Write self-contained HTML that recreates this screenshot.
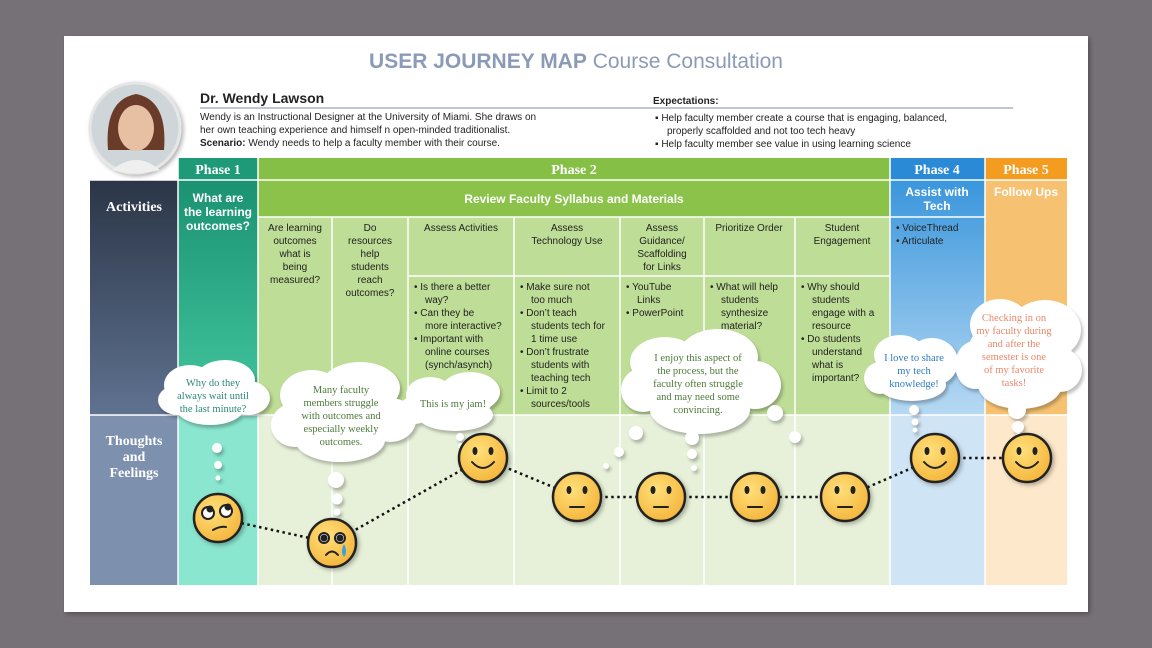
<!DOCTYPE html>
<html><head><meta charset="utf-8"><style>
html,body{margin:0;padding:0;background:#767176;}
svg{display:block}
.s{font-family:"Liberation Sans",sans-serif}
.sr{font-family:"Liberation Serif",serif}
</style></head><body>
<svg width="1152" height="648" viewBox="0 0 1152 648" xmlns="http://www.w3.org/2000/svg">
<defs>
<filter id="sh" x="-20%" y="-20%" width="140%" height="140%"><feDropShadow dx="2" dy="2" stdDeviation="2" flood-color="#000" flood-opacity="0.3"/></filter>
<filter id="bl"><feGaussianBlur stdDeviation="1.5"/></filter>
<linearGradient id="gAct" x1="0" y1="0" x2="0" y2="1"><stop offset="0" stop-color="#2b3547"/><stop offset="1" stop-color="#5f7290"/></linearGradient>
<linearGradient id="gP1" x1="0" y1="0" x2="0" y2="1"><stop offset="0" stop-color="#1b9272"/><stop offset="1" stop-color="#43c7a0"/></linearGradient>
<linearGradient id="gP4" x1="0" y1="0" x2="0" y2="1"><stop offset="0" stop-color="#3a96dc"/><stop offset="1" stop-color="#b6d9f3"/></linearGradient>
<radialGradient id="face" cx="0.4" cy="0.35" r="0.7"><stop offset="0" stop-color="#ffe07a"/><stop offset="1" stop-color="#f4b43a"/></radialGradient>
<radialGradient id="photo" cx="0.5" cy="0.45" r="0.6"><stop offset="0" stop-color="#e9c2a6"/><stop offset="0.45" stop-color="#c89a7c"/><stop offset="0.6" stop-color="#6b3f2e"/><stop offset="1" stop-color="#d8dde0"/></radialGradient>
<g id="clouds">
<ellipse cx="190" cy="385" rx="26" ry="20"/><ellipse cx="225" cy="380" rx="30" ry="20"/><ellipse cx="248" cy="398" rx="22" ry="17"/><ellipse cx="210" cy="408" rx="34" ry="17"/><ellipse cx="178" cy="400" rx="20" ry="15"/>
<circle cx="217" cy="448" r="5"/><circle cx="218" cy="465" r="4"/><circle cx="218" cy="478" r="2.5"/>
<ellipse cx="312" cy="395" rx="32" ry="25"/><ellipse cx="360" cy="388" rx="40" ry="26"/><ellipse cx="390" cy="420" rx="26" ry="22"/><ellipse cx="340" cy="440" rx="45" ry="22"/><ellipse cx="295" cy="425" rx="24" ry="22"/><ellipse cx="340" cy="415" rx="50" ry="30"/>
<circle cx="336" cy="480" r="8"/><circle cx="337" cy="499" r="5.5"/><circle cx="337" cy="512" r="3.5"/>
<ellipse cx="430" cy="395" rx="24" ry="18"/><ellipse cx="470" cy="392" rx="30" ry="20"/><ellipse cx="455" cy="415" rx="38" ry="16"/><ellipse cx="415" cy="410" rx="16" ry="14"/><ellipse cx="452" cy="402" rx="40" ry="18"/>
<circle cx="460" cy="437" r="4"/><circle cx="461" cy="446" r="3"/>
<ellipse cx="665" cy="362" rx="35" ry="25"/><ellipse cx="718" cy="357" rx="40" ry="28"/><ellipse cx="755" cy="385" rx="26" ry="24"/><ellipse cx="700" cy="410" rx="50" ry="24"/><ellipse cx="643" cy="390" rx="22" ry="22"/><ellipse cx="698" cy="385" rx="60" ry="32"/>
<circle cx="775" cy="413" r="8"/><circle cx="795" cy="437" r="6"/><circle cx="636" cy="433" r="7"/><circle cx="619" cy="452" r="5"/><circle cx="606" cy="466" r="3"/>
<circle cx="692" cy="438" r="7"/><circle cx="692" cy="454" r="5"/><circle cx="694" cy="468" r="3"/>
<ellipse cx="900" cy="355" rx="26" ry="20"/><ellipse cx="932" cy="362" rx="26" ry="24"/><ellipse cx="912" cy="385" rx="34" ry="16"/><ellipse cx="880" cy="378" rx="16" ry="16"/><ellipse cx="912" cy="370" rx="36" ry="22"/>
<circle cx="914" cy="410" r="5"/><circle cx="915" cy="422" r="3.5"/><circle cx="915" cy="430" r="2.5"/>
<ellipse cx="1000" cy="325" rx="30" ry="26"/><ellipse cx="1045" cy="330" rx="36" ry="30"/><ellipse cx="1060" cy="370" rx="22" ry="22"/><ellipse cx="1020" cy="385" rx="42" ry="24"/><ellipse cx="975" cy="365" rx="20" ry="24"/><ellipse cx="1017" cy="355" rx="50" ry="40"/>
<circle cx="1017" cy="410" r="9"/><circle cx="1018" cy="427" r="6"/><circle cx="1019" cy="437" r="4"/>
</g>
</defs>
<rect x="64" y="36" width="1024" height="576" fill="#fff" filter="url(#sh)"/>
<text x="576" y="68" text-anchor="middle" class="s" font-size="21" fill="#8a9bb7"><tspan font-weight="bold">USER JOURNEY MAP</tspan> Course Consultation</text>
<!-- photo -->
<circle cx="135" cy="128" r="45" fill="#cfd6da" stroke="#e6e6e6" stroke-width="3" filter="url(#sh)"/>
<path d="M108 150 Q104 100 136 94 Q168 100 164 150 Z" fill="#6b3b2a"/>
<ellipse cx="136" cy="128" rx="18" ry="23" fill="#e7bfa2"/>
<path d="M117 112 Q136 96 156 112 Q150 100 136 100 Q121 100 117 112Z" fill="#6b3b2a"/>
<path d="M112 170 Q136 150 160 170 Q136 176 112 170Z" fill="#efefef"/>
<text x="200" y="103" class="s" font-size="14" font-weight="bold" fill="#222">Dr. Wendy Lawson</text>
<line x1="200" y1="108" x2="1013" y2="108" stroke="#a8b4c6" stroke-width="1.5"/>
<g class="s" font-size="10" fill="#222">
<text x="200" y="120">Wendy is an Instructional Designer at the University of Miami.  She draws on</text>
<text x="200" y="133">her own teaching experience and himself n open-minded traditionalist.</text>
<text x="200" y="146"><tspan font-weight="bold">Scenario:</tspan> Wendy needs to help a faculty member with their course.</text>
<text x="653" y="104" font-weight="bold">Expectations:</text>
<text x="655" y="121">▪  Help faculty member  create a course that is engaging, balanced,</text>
<text x="667" y="134">properly scaffolded and not too tech heavy</text>
<text x="655" y="147">▪  Help faculty member  see value in using learning science</text>
</g>
<!-- phase row -->
<rect x="178" y="158" width="80" height="22" fill="#1e9a78"/>
<rect x="258" y="158" width="632" height="22" fill="#86bf45"/>
<rect x="890" y="158" width="95" height="22" fill="#2b8ad6"/>
<rect x="985" y="158" width="82" height="22" fill="#f39c1f"/>
<g class="sr" font-size="14" font-weight="bold" fill="#fff" text-anchor="middle">
<text x="218" y="174">Phase 1</text><text x="574" y="174">Phase 2</text><text x="937" y="174">Phase 4</text><text x="1026" y="174">Phase 5</text>
</g>
<!-- columns -->
<rect x="90" y="180" width="88" height="235" fill="url(#gAct)"/>
<rect x="90" y="415" width="88" height="170" fill="#7d90ae"/>
<rect x="178" y="180" width="80" height="235" fill="url(#gP1)"/>
<rect x="178" y="415" width="80" height="170" fill="#8ae6cf"/>
<rect x="258" y="180" width="632" height="37" fill="#8bc34a"/>
<rect x="258" y="217" width="632" height="198" fill="#bedd96"/>
<rect x="258" y="415" width="632" height="170" fill="#e7f1d9"/>
<rect x="890" y="180" width="95" height="235" fill="url(#gP4)"/>
<rect x="890" y="415" width="95" height="170" fill="#cfe4f5"/>
<rect x="985" y="180" width="82" height="235" fill="#f6c271"/>
<rect x="985" y="415" width="82" height="170" fill="#fde8cb"/>
<g stroke="#fff" stroke-width="1.5">
<line x1="178" y1="158" x2="178" y2="585"/><line x1="258" y1="158" x2="258" y2="585"/><line x1="890" y1="158" x2="890" y2="585"/><line x1="985" y1="158" x2="985" y2="585"/>
<line x1="90" y1="180" x2="1067" y2="180"/><line x1="90" y1="415" x2="1067" y2="415"/>
<line x1="258" y1="217" x2="985" y2="217"/>
<line x1="408" y1="276" x2="890" y2="276"/>
<line x1="332" y1="217" x2="332" y2="585"/><line x1="408" y1="217" x2="408" y2="585"/><line x1="514" y1="217" x2="514" y2="585"/>
<line x1="620" y1="217" x2="620" y2="585"/><line x1="704" y1="217" x2="704" y2="585"/><line x1="795" y1="217" x2="795" y2="585"/>
</g>
<g class="sr" font-size="14" font-weight="bold" fill="#fff" text-anchor="middle">
<text x="134" y="211">Activities</text>
<text x="134" y="445">Thoughts</text><text x="134" y="461">and</text><text x="134" y="477">Feelings</text>
</g>
<g class="s" font-size="12" font-weight="bold" fill="#fff" text-anchor="middle">
<text x="218" y="202">What are</text><text x="218" y="216">the learning</text><text x="218" y="230">outcomes?</text>
<text x="574" y="203">Review Faculty Syllabus and Materials</text>
<text x="937" y="196">Assist with</text><text x="937" y="210">Tech</text>
<text x="1026" y="196">Follow Ups</text>
</g>
<g class="s" font-size="10" fill="#222" text-anchor="middle">
<text x="295" y="231">Are learning</text><text x="295" y="244">outcomes</text><text x="295" y="257">what is</text><text x="295" y="270">being</text><text x="295" y="283">measured?</text>
<text x="370" y="231">Do</text><text x="370" y="244">resources</text><text x="370" y="257">help</text><text x="370" y="270">students</text><text x="370" y="283">reach</text><text x="370" y="296">outcomes?</text>
<text x="461" y="231">Assess Activities</text>
<text x="567" y="231">Assess</text><text x="567" y="244">Technology Use</text>
<text x="662" y="231">Assess</text><text x="662" y="244">Guidance/</text><text x="662" y="257">Scaffolding</text><text x="662" y="270">for Links</text>
<text x="749" y="231">Prioritize  Order</text>
<text x="842" y="231">Student</text><text x="842" y="244">Engagement</text>
</g>
<g class="s" font-size="10" fill="#222">
<text x="414" y="290">•  Is there a better</text><text x="425" y="303">way?</text><text x="414" y="316">•  Can they be</text><text x="425" y="329">more interactive?</text><text x="414" y="342">•  Important  with</text><text x="425" y="355">online courses</text><text x="425" y="368">(synch/asynch)</text>
<text x="520" y="290">•  Make sure not</text><text x="531" y="303">too much</text><text x="520" y="316">•  Don’t teach</text><text x="531" y="329">students tech for</text><text x="531" y="342">1 time use</text><text x="520" y="355">•  Don’t frustrate</text><text x="531" y="368">students with</text><text x="531" y="381">teaching tech</text><text x="520" y="394">•  Limit to 2</text><text x="531" y="407">sources/tools</text>
<text x="626" y="290">•  YouTube</text><text x="637" y="303">Links</text><text x="626" y="316">•  PowerPoint</text>
<text x="710" y="290">•  What will help</text><text x="721" y="303">students</text><text x="721" y="316">synthesize</text><text x="721" y="329">material?</text>
<text x="801" y="290">•  Why should</text><text x="812" y="303">students</text><text x="812" y="316">engage with a</text><text x="812" y="329">resource</text><text x="801" y="342">•  Do students</text><text x="812" y="355">understand</text><text x="812" y="368">what is</text><text x="812" y="381">important?</text>
<text x="896" y="231">•  VoiceThread</text><text x="896" y="244">•  Articulate</text>
</g>
<!-- dotted line -->
<polyline points="218,518 332,543 483,458 577,497 661,497 755,497 845,497 935,458 1027,458" fill="none" stroke="#111" stroke-width="2.5" stroke-dasharray="2.5 3.5"/>
<!-- clouds -->
<use href="#clouds" transform="translate(2,3)" fill="#000" opacity="0.25" filter="url(#bl)"/>
<use href="#clouds" fill="#fff"/>
<g class="sr" font-size="10.5" text-anchor="middle">
<g fill="#2b8a78"><text x="213" y="386">Why do they</text><text x="213" y="399">always wait until</text><text x="213" y="412">the last minute?</text></g>
<g fill="#4e7a3a"><text x="341" y="393">Many faculty</text><text x="341" y="406">members struggle</text><text x="341" y="419">with outcomes and</text><text x="341" y="432">especially weekly</text><text x="341" y="445">outcomes.</text>
<text x="453" y="407">This is my jam!</text>
<text x="698" y="361">I enjoy this aspect of</text><text x="698" y="374">the process, but the</text><text x="698" y="387">faculty often struggle</text><text x="698" y="400">and may need some</text><text x="698" y="413">convincing.</text></g>
<g fill="#2e7bc0"><text x="914" y="361">I love to share</text><text x="914" y="374">my tech</text><text x="914" y="387">knowledge!</text></g>
<g fill="#e8886a"><text x="1014" y="321">Checking in on</text><text x="1014" y="334">my faculty during</text><text x="1014" y="347">and after the</text><text x="1014" y="360">semester is one</text><text x="1014" y="373">of my favorite</text><text x="1014" y="386">tasks!</text></g>
</g>
<!-- faces -->
<g stroke="#222" stroke-width="2.5" filter="url(#sh)" fill="url(#face)">
<circle cx="218" cy="518" r="24"/><circle cx="332" cy="543" r="24"/><circle cx="483" cy="458" r="24"/>
<circle cx="577" cy="497" r="24"/><circle cx="661" cy="497" r="24"/><circle cx="755" cy="497" r="24"/><circle cx="845" cy="497" r="24"/>
<circle cx="935" cy="458" r="24"/><circle cx="1027" cy="458" r="24"/>
</g>
<g fill="#222" stroke="#222" stroke-width="2" stroke-linecap="round">
<circle cx="208" cy="513" r="6" fill="#fff"/><circle cx="226" cy="511" r="6" fill="#fff"/><circle cx="210" cy="509" r="2.5"/><circle cx="228" cy="507" r="2.5"/>
<path d="M213 530 Q220 526 226 527" fill="none"/>
<circle cx="324" cy="538" r="5" fill="#fff"/><circle cx="340" cy="538" r="5" fill="#fff"/><circle cx="324" cy="538" r="2.5"/><circle cx="340" cy="538" r="2.5"/>
<path d="M326 555 Q332 548 338 555" fill="none"/>
<path d="M344 544 Q340 552 344 557 Q348 552 344 544Z" fill="#3aa0e0" stroke="none"/>
<g stroke="none"><ellipse cx="475" cy="451" rx="2.5" ry="4"/><ellipse cx="491" cy="451" rx="2.5" ry="4"/>
<ellipse cx="927" cy="451" rx="2.5" ry="4"/><ellipse cx="943" cy="451" rx="2.5" ry="4"/>
<ellipse cx="1019" cy="451" rx="2.5" ry="4"/><ellipse cx="1035" cy="451" rx="2.5" ry="4"/>
<ellipse cx="569" cy="490" rx="2.5" ry="4"/><ellipse cx="585" cy="490" rx="2.5" ry="4"/>
<ellipse cx="653" cy="490" rx="2.5" ry="4"/><ellipse cx="669" cy="490" rx="2.5" ry="4"/>
<ellipse cx="747" cy="490" rx="2.5" ry="4"/><ellipse cx="763" cy="490" rx="2.5" ry="4"/>
<ellipse cx="837" cy="490" rx="2.5" ry="4"/><ellipse cx="853" cy="490" rx="2.5" ry="4"/></g>
<path d="M472 462 Q483 474 494 462" fill="none"/><path d="M924 462 Q935 474 946 462" fill="none"/><path d="M1016 462 Q1027 474 1038 462" fill="none"/>
<line x1="570" y1="507" x2="584" y2="507"/><line x1="654" y1="507" x2="668" y2="507"/><line x1="748" y1="507" x2="762" y2="507"/><line x1="838" y1="507" x2="852" y2="507"/>
</g>
</svg>
</body></html>
